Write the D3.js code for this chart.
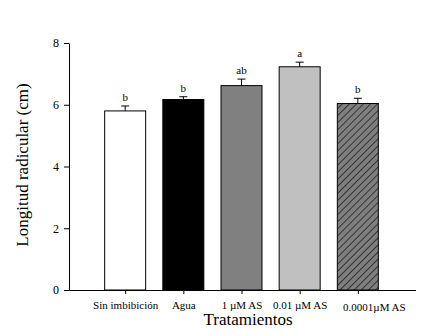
<!DOCTYPE html>
<html>
<head>
<meta charset="utf-8">
<script src="https://cdn.jsdelivr.net/npm/d3@7"></script>
<style>
  body { margin: 0; background: #fff; }
  text { font-family: "Liberation Serif", "Times New Roman", serif; }
</style>
</head>
<body>
<div class="chart"></div>
<script>
var categories = ["Sin imbibición", "Agua", "1 µM AS", "0.01 µM AS", "0.0001µM AS"];
var means = [5.8, 6.17, 6.62, 7.23, 6.04];
var errors = [0.16, 0.09, 0.21, 0.15, 0.17];
var letters = ["b", "b", "ab", "a", "b"];
var yTicks = [0, 2, 4, 6, 8];

var width = 435, height = 336;
var margin = {top: 43, left: 67, right: 19, bottom: 46};

var svg = d3.select(".chart")
    .append("svg")
    .attr("width", width)
    .attr("height", height);

var defs = svg.append("defs");
var pat = defs.append("pattern")
    .attr("id", "hatch")
    .attr("patternUnits", "userSpaceOnUse")
    .attr("width", 5)
    .attr("height", 5)
    .attr("patternTransform", "rotate(45)");
pat.append("rect").attr("width", 5).attr("height", 5).attr("fill", "#7f7f7f");
pat.append("line").attr("x1", 0).attr("y1", 0).attr("x2", 0).attr("y2", 5)
    .attr("stroke", "#000").attr("stroke-width", 1.2);

var fills = ["#ffffff", "#000000", "#808080", "#c0c0c0", "url(#hatch)"];

var x = d3.scalePoint()
    .domain(categories)
    .range([margin.left, width - margin.right])
    .padding(1);

var y = d3.scaleLinear()
    .domain([0, 8])
    .range([height - margin.bottom - 0, margin.top]);

var barW = 41;

var bars = svg.append("g").attr("class", "bars");

bars.selectAll("rect")
    .data(categories)
  .enter().append("rect")
    .attr("x", function(d) { return x(d) - barW / 2; })
    .attr("y", function(d, i) { return y(means[i]); })
    .attr("width", barW)
    .attr("height", function(d, i) { return y(0) - y(means[i]); })
    .attr("fill", function(d, i) { return fills[i]; })
    .attr("stroke", "#000")
    .attr("stroke-width", 1);

// error bars (upper only)
var err = svg.append("g").attr("class", "errors")
    .attr("stroke", "#000").attr("stroke-width", 1);

err.selectAll("line.v")
    .data(categories)
  .enter().append("line")
    .attr("class", "v")
    .attr("x1", function(d) { return x(d); })
    .attr("x2", function(d) { return x(d); })
    .attr("y1", function(d, i) { return y(means[i]); })
    .attr("y2", function(d, i) { return y(means[i] + errors[i]); });

err.selectAll("line.cap")
    .data(categories)
  .enter().append("line")
    .attr("class", "cap")
    .attr("x1", function(d) { return x(d) - 4; })
    .attr("x2", function(d) { return x(d) + 4; })
    .attr("y1", function(d, i) { return y(means[i] + errors[i]); })
    .attr("y2", function(d, i) { return y(means[i] + errors[i]); });

svg.append("g").selectAll("text")
    .data(categories)
  .enter().append("text")
    .attr("x", function(d) { return x(d); })
    .attr("y", function(d, i) { return y(means[i] + errors[i]) - 5; })
    .attr("text-anchor", "middle")
    .attr("font-size", 11)
    .text(function(d, i) { return letters[i]; });

// axes
var yAxis = svg.append("g")
    .attr("transform", "translate(" + (margin.left + 2) + ",0)")
    .call(d3.axisLeft(y).tickValues(yTicks).tickSize(5).tickSizeOuter(0));

yAxis.selectAll("text").attr("font-size", 12).attr("font-family", "Liberation Serif").attr("dx", -2);

var xAxis = svg.append("g")
    .attr("transform", "translate(0," + y(0) + ")")
    .call(d3.axisBottom(x).tickSize(4).tickSizeOuter(0));

xAxis.select(".domain").attr("d", "M" + margin.left + ",0.5H" + (width - margin.right));
xAxis.selectAll("text").attr("font-size", 11).attr("font-family", "Liberation Serif").attr("dy", "1.05em");
xAxis.selectAll(".tick:last-of-type text").attr("dx", 16).attr("dy", "1.25em");

svg.selectAll(".domain, .tick line").attr("stroke", "#000");

svg.append("text")
    .attr("x", 248)
    .attr("y", 325)
    .attr("text-anchor", "middle")
    .attr("font-size", 17)
    .text("Tratamientos");

svg.append("text")
    .attr("transform", "translate(28,165) rotate(-90)")
    .attr("text-anchor", "middle")
    .attr("font-size", 17)
    .text("Longitud radicular (cm)");
</script>
</body>
</html>
